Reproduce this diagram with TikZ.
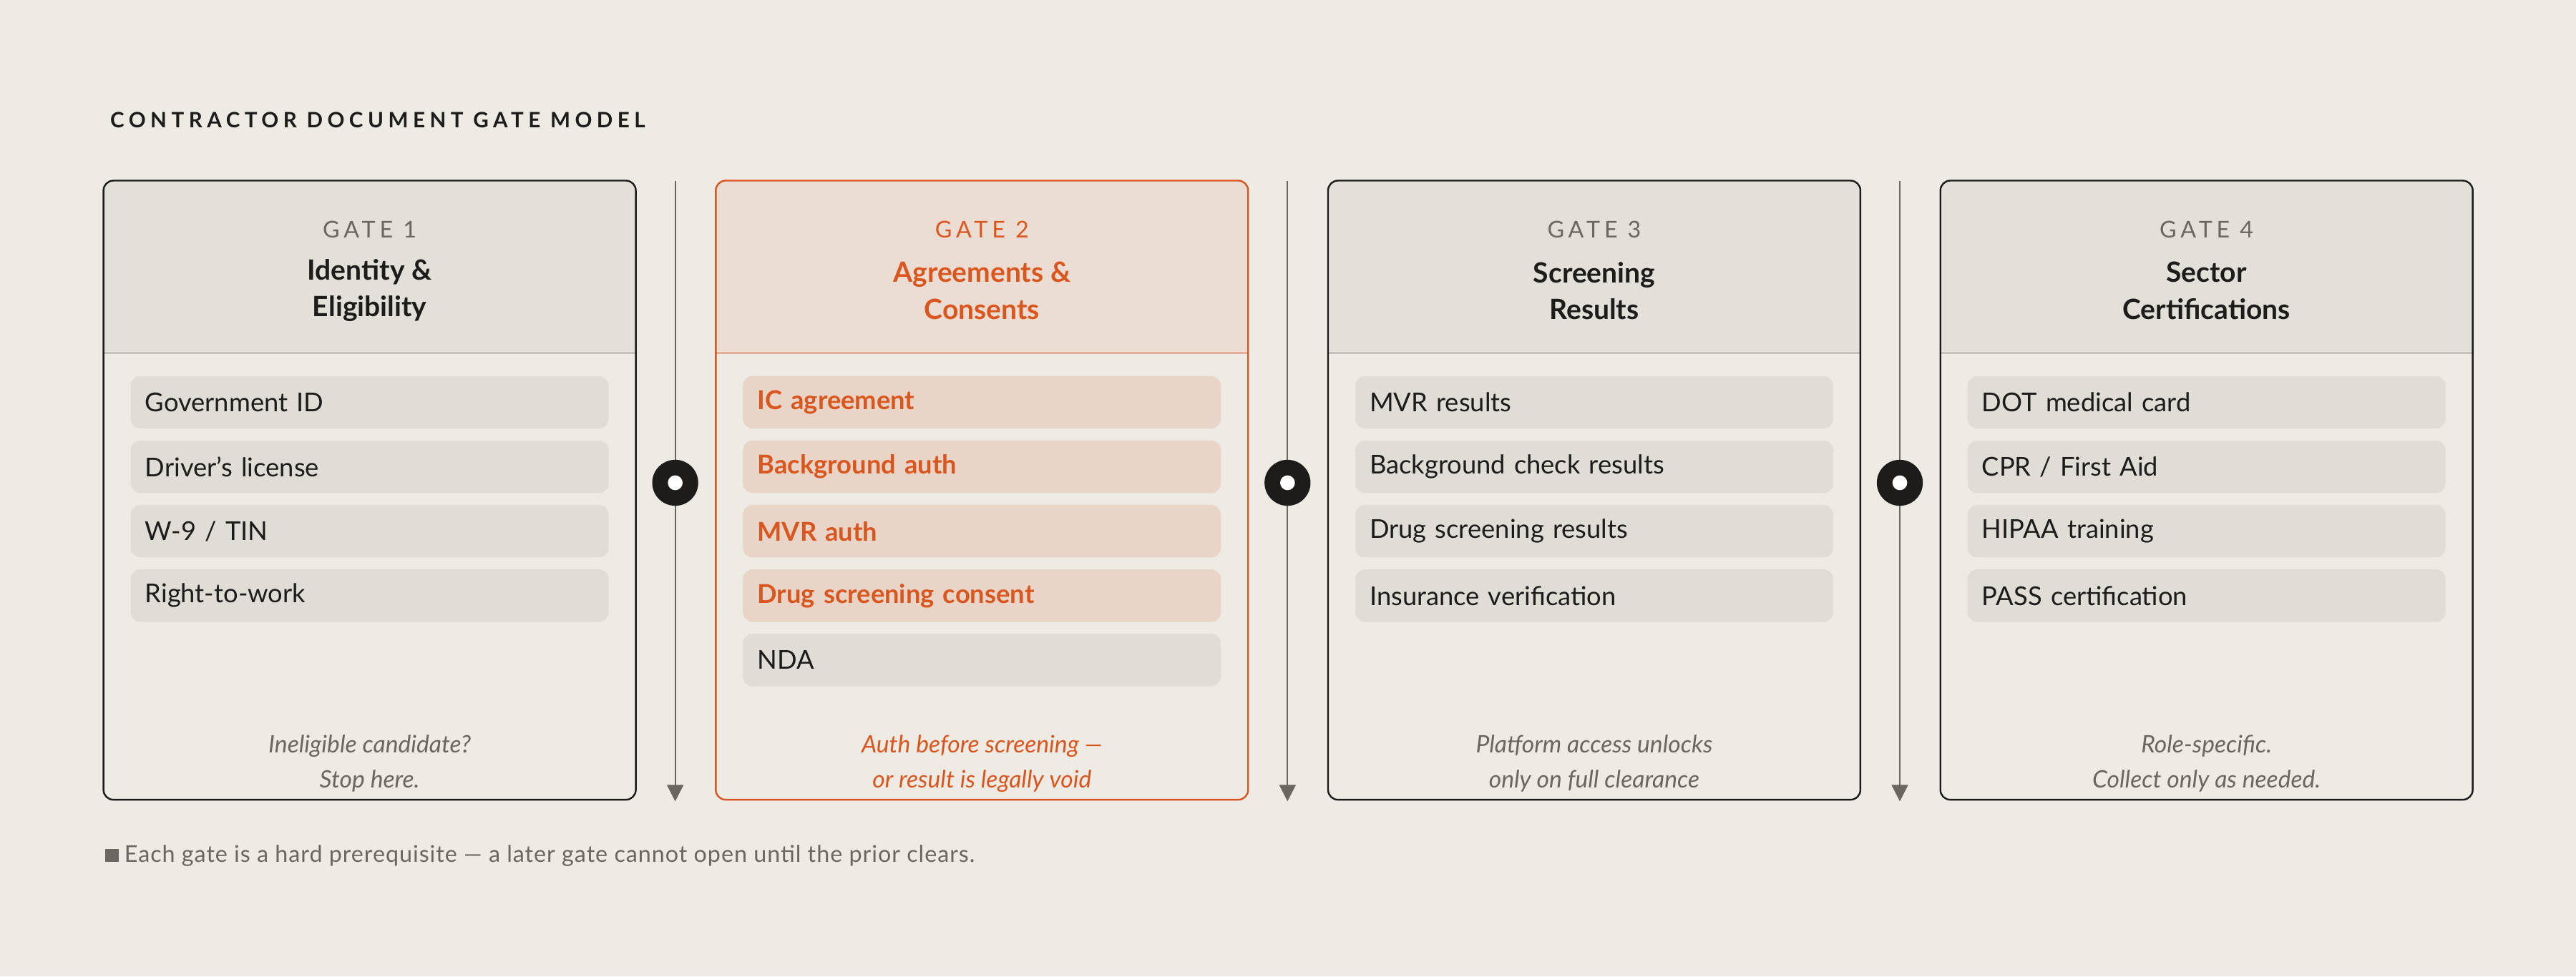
\documentclass[tikz,border=0pt]{standalone}
\usepackage{fontspec}
\setmainfont{Lato}
\usetikzlibrary{arrows.meta}
\definecolor{bg}{HTML}{EEEAE4}
\definecolor{hdr}{HTML}{E3DFD9}
\definecolor{rowc}{HTML}{E0DCD6}
\definecolor{org}{HTML}{D9561E}
\definecolor{ohdr}{HTML}{EBDDD3}
\definecolor{orow}{HTML}{E9D5C8}
\definecolor{sep}{HTML}{C8C4BE}
\definecolor{osep}{HTML}{E8B09A}
\definecolor{ink}{HTML}{1E1C1A}
\definecolor{mute}{HTML}{6A6661}
\begin{document}
\begin{tikzpicture}[x=0.03cm,y=-0.03cm,
  row/.style={fill=rowc,rounded corners=0.18cm,minimum width=8.73cm,minimum height=0.96cm,text width=8.2cm,align=left,inner sep=0pt,font=\fontsize{13.5}{16}\selectfont,text=ink},
  orow/.style={row,fill=orow,text=org,font=\fontsize{13.5}{16}\selectfont\bfseries},
  lab/.style={font=\fontsize{12}{14}\selectfont\addfontfeature{LetterSpace=18},text=mute},
  ttl/.style={font=\fontsize{14.5}{19}\selectfont\bfseries,align=center,text=ink},
  note/.style={font=\fontsize{12.5}{18}\selectfont\itshape,align=center,text=mute},
  gline/.style={draw=mute,line width=0.7pt,-{Triangle[length=0.3cm,width=0.3cm]}}]
\fill[bg] (0,0) rectangle (1568,594.6);
\node[anchor=west,font=\fontsize{11}{13}\selectfont\addfontfeature{LetterSpace=22}\bfseries,text=ink] (title) at (63,73) {CONTRACTOR DOCUMENT GATE MODEL};
\foreach \i/\n/\lc/\tc/\hc/\sc/\bc/\nc/\tA/\tB/\nA/\nB in {
  0/1/mute/ink/hdr/sep/ink/mute/Identity \&/Eligibility/Ineligible candidate?/Stop here.,
  1/2/org/org/ohdr/osep/org/org/Agreements \&/Consents/Auth before screening —/or result is legally void,
  2/3/mute/ink/hdr/sep/ink/mute/Screening/Results/Platform access unlocks/only on full clearance,
  3/4/mute/ink/hdr/sep/ink/mute/Sector/Certifications/Role-specific./Collect only as needed.}{
  \pgfmathsetmacro{\xa}{63+\i*372.7}
  \pgfmathsetmacro{\xb}{\xa+324}
  \pgfmathsetmacro{\xc}{\xa+162}
  \fill[\hc] (\xa,215) [rounded corners=0.18cm] -- (\xa,110) -- (\xb,110) [sharp corners] -- (\xb,215) -- cycle;
  \draw[\sc,line width=1pt] (\xa,215) -- (\xb,215);
  \node[draw=\bc,line width=0.9pt,rounded corners=0.18cm,minimum width=9.72cm,minimum height=11.31cm,inner sep=0pt] (g\i) at (\xc,298.5) {};
  \node[lab,text=\lc] (gl\i) at (\xc,140) {GATE \n};
  \node[ttl,text=\tc] (gt\i) at (\xc,177) {\tA\\\tB};
  \node[note,text=\nc] (gn\i) at (\xc,465) {\nA\\\nB};
}
% rows
\foreach \t [count=\k] in {Government ID,Driver's license,W-9 / TIN,Right-to-work}
  \node[row] (a\k) at (225,{245+(\k-1)*39.25}) {\t};
\foreach \t [count=\k] in {IC agreement,Background auth,MVR auth,Drug screening consent}
  \node[orow] (b\k) at (597.7,{245+(\k-1)*39.25}) {\t};
\node[row] (b5) at (597.7,402) {NDA};
\foreach \t [count=\k] in {MVR results,Background check results,Drug screening results,Insurance verification}
  \node[row] (c\k) at (970.4,{245+(\k-1)*39.25}) {\t};
\foreach \t [count=\k] in {DOT medical card,CPR / First Aid,HIPAA training,PASS certification}
  \node[row] (d\k) at (1343.1,{245+(\k-1)*39.25}) {\t};
% gate connectors
\foreach \i/\x in {1/411,2/783.7,3/1156.4}{
  \coordinate (s\i) at (\x,110);
  \coordinate (e\i) at (\x,488);
  \draw[gline] (s\i) -- (e\i);
  \node[circle,fill=ink,minimum size=0.84cm,inner sep=0pt] (k\i) at (\x,294) {};
  \node[circle,fill=white,minimum size=0.27cm,inner sep=0pt] (kd\i) at (k\i) {};
}
\node[anchor=west,font=\fontsize{12}{14}\selectfont,text=mute] (foot) at (60,521) {\textcolor{mute}{\rule{0.24cm}{0.24cm}}\ \addfontfeature{LetterSpace=3}Each gate is a hard prerequisite — a later gate cannot open until the prior clears.};
\end{tikzpicture}
\end{document}
